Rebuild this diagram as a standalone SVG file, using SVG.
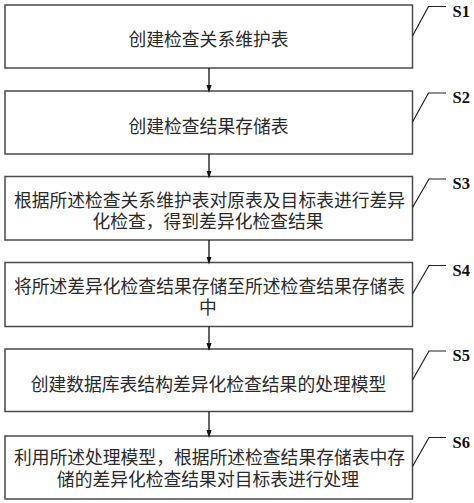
<svg xmlns="http://www.w3.org/2000/svg" width="474" height="503" viewBox="0 0 474 503">
<style>
.box{fill:#fff;stroke:#4a4a4a;stroke-width:1.5}
.t{font-family:"Noto Sans CJK SC","Noto Sans CJK JP",sans-serif;font-size:17.8px;fill:#2a2a2a;text-anchor:middle;dominant-baseline:central}
.lead{fill:none;stroke:#222;stroke-width:1.2}
.s{font-family:"Liberation Serif","Times New Roman",serif;font-weight:bold;font-size:16.5px;fill:#111}
.c{stroke:#111;stroke-width:1.3;fill:none}
</style>
<defs>
<marker id="ah" markerWidth="8" markerHeight="12" refX="7.5" refY="3.5" orient="auto" markerUnits="userSpaceOnUse" viewBox="0 0 11 7">
<path d="M0,0 L11,3.5 L0,7 Z" fill="#111"/>
</marker>
</defs>
<rect width="474" height="503" fill="#fff"/>
<g id="S1">
<rect class="box" x="5" y="5" width="407.5" height="63"/>
<text class="t" x="208.5" y="38">创建检查关系维护表</text>
<polyline class="lead" points="412.5,36 428.5,6.5 446,6.5"/>
<text class="s" x="452.5" y="17">S1</text>
</g>
<g id="S2">
<rect class="box" x="5" y="91" width="407.5" height="63"/>
<text class="t" x="208.5" y="125">创建检查结果存储表</text>
<polyline class="lead" points="412.5,122 428.5,93 446,93"/>
<text class="s" x="452.5" y="103">S2</text>
</g>
<g id="S3">
<rect class="box" x="5" y="176.5" width="407.5" height="63.5"/>
<text class="t"><tspan x="209.5" y="198.5">根据所述检查关系维护表对原表及目标表进行差异</tspan><tspan x="208" y="219.5">化检查，得到差异化检查结果</tspan></text>
<polyline class="lead" points="412.5,207.5 429,179 446,179"/>
<text class="s" x="452.5" y="189">S3</text>
</g>
<g id="S4">
<rect class="box" x="5" y="262.5" width="407.5" height="64"/>
<text class="t"><tspan x="209.5" y="285">将所述差异化检查结果存储至所述检查结果存储表</tspan><tspan x="208" y="305.5">中</tspan></text>
<polyline class="lead" points="412.5,294 429,265.5 446,265.5"/>
<text class="s" x="452.5" y="275.5">S4</text>
</g>
<g id="S5">
<rect class="box" x="5" y="349" width="407.5" height="62.5"/>
<text class="t" x="208.5" y="383">创建数据库表结构差异化检查结果的处理模型</text>
<polyline class="lead" points="412.5,380 429,351 446,351"/>
<text class="s" x="452.5" y="361">S5</text>
</g>
<g id="S6">
<rect class="box" x="5" y="436" width="407.5" height="63"/>
<text class="t"><tspan x="209.5" y="456">利用所述处理模型，根据所述检查结果存储表中存</tspan><tspan x="208" y="478">储的差异化检查结果对目标表进行处理</tspan></text>
<polyline class="lead" points="412.5,466.5 429,437.5 446,437.5"/>
<text class="s" x="452.5" y="447.5">S6</text>
</g>
<g id="connectors">
<line class="c" x1="209" y1="68" x2="209" y2="90.5" marker-end="url(#ah)"/>
<line class="c" x1="209" y1="154" x2="209" y2="176" marker-end="url(#ah)"/>
<line class="c" x1="209" y1="240" x2="209" y2="262" marker-end="url(#ah)"/>
<line class="c" x1="209" y1="326.5" x2="209" y2="348.5" marker-end="url(#ah)"/>
<line class="c" x1="209" y1="411.5" x2="209" y2="435.5" marker-end="url(#ah)"/>
</g>
</svg>
